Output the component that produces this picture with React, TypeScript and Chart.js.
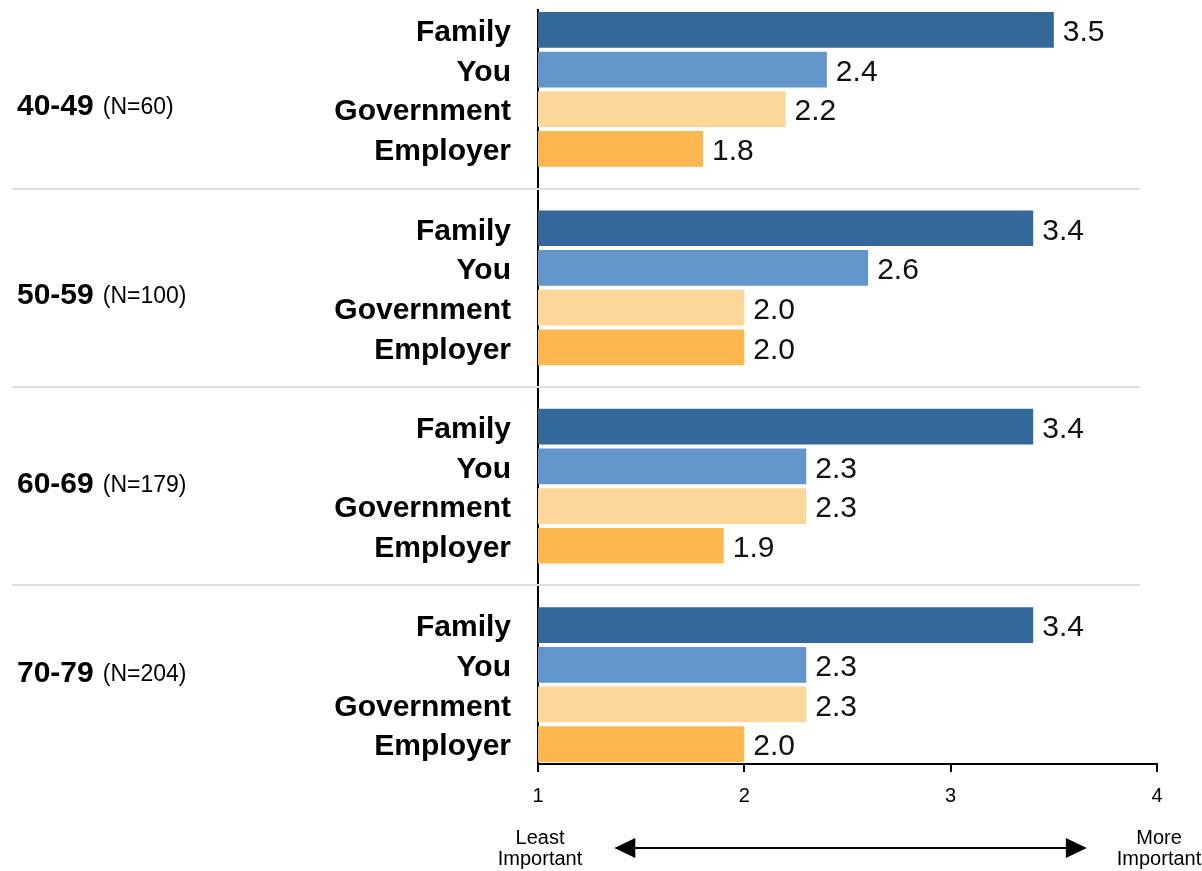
import React, { useEffect, useRef } from "react";
import { Chart, registerables } from "chart.js";

Chart.register(...registerables);

// ---- data ----
const GROUPS = ["40-49", "50-59", "60-69", "70-79"];
const GROUP_N = ["(N=60)", "(N=100)", "(N=179)", "(N=204)"];
const SOURCES = ["Family", "You", "Government", "Employer"];
const SOURCE_COLORS = ["#34679A", "#6296CA", "#FDD69A", "#FDB750"];
const FAMILY = [3.5, 3.4, 3.4, 3.4];
const YOU = [2.4, 2.6, 2.3, 2.3];
const GOVERNMENT = [2.2, 2.0, 2.3, 2.3];
const EMPLOYER = [1.8, 2.0, 1.9, 2.0];
const X_TICKS = [1, 2, 3, 4];
const LEFT_END_LABEL = ["Least", "Important"];
const RIGHT_END_LABEL = ["More", "Important"];

const SERIES = [FAMILY, YOU, GOVERNMENT, EMPLOYER];
const FONT = '"Liberation Sans", Arial, Helvetica, sans-serif';

// Build slot table: 4 bars per group, an empty slot between groups
const slotLabels: string[] = [];
const slotValues: (number | null)[] = [];
const slotColors: string[] = [];
const gapSlots: number[] = [];
const groupStart: number[] = [];
GROUPS.forEach((_, g) => {
  groupStart.push(slotLabels.length);
  SOURCES.forEach((s, k) => {
    slotLabels.push(s);
    slotValues.push(SERIES[k][g]);
    slotColors.push(SOURCE_COLORS[k]);
  });
  if (g < GROUPS.length - 1) {
    gapSlots.push(slotLabels.length);
    slotLabels.push("");
    slotValues.push(null);
    slotColors.push("rgba(0,0,0,0)");
  }
});

const decorPlugin = {
  id: "decor",
  beforeDatasetsDraw(chart: any) {
    const { ctx } = chart;
    const y = chart.scales.y;
    ctx.save();
    ctx.strokeStyle = "#dddddd";
    ctx.lineWidth = 2;
    gapSlots.forEach((s) => {
      const py = Math.round(y.getPixelForValue(s));
      ctx.beginPath();
      ctx.moveTo(12, py);
      ctx.lineTo(1140, py);
      ctx.stroke();
    });
    ctx.restore();
  },
  afterDatasetsDraw(chart: any) {
    const { ctx, chartArea } = chart;
    const x = chart.scales.x;
    const y = chart.scales.y;
    const meta = chart.getDatasetMeta(0);
    ctx.save();
    // value labels
    ctx.fillStyle = "#111";
    ctx.font = `30px ${FONT}`;
    ctx.textAlign = "left";
    ctx.textBaseline = "middle";
    meta.data.forEach((bar: any, i: number) => {
      const v = slotValues[i];
      if (v == null) return;
      ctx.fillText(v.toFixed(1), bar.x + 9, bar.y + 3);
    });

    // group labels
    GROUPS.forEach((g, i) => {
      const py = y.getPixelForValue(groupStart[i] + 1.89 - 0.24 * i) + 2;
      ctx.font = `bold 30px ${FONT}`;
      ctx.fillStyle = "#000";
      ctx.fillText(g, 17, py);
      const w = ctx.measureText(g).width;
      ctx.font = `23px ${FONT}`;
      ctx.fillText(GROUP_N[i], 17 + w + 9, py + 1);
    });

    // bottom scale annotation
    const xl = x.getPixelForValue(X_TICKS[0]);
    const xr = x.getPixelForValue(X_TICKS[X_TICKS.length - 1]);
    const b = chartArea.bottom;
    ctx.font = `20px ${FONT}`;
    ctx.fillStyle = "#000";
    ctx.textAlign = "center";
    ctx.textBaseline = "middle";
    LEFT_END_LABEL.forEach((t, k) => ctx.fillText(t, xl + 2, b + 74 + k * 21));
    RIGHT_END_LABEL.forEach((t, k) => ctx.fillText(t, xr + 2, b + 74 + k * 21));

    const ay = b + 84;
    const a0 = x.getPixelForValue(1.37);
    const a1 = x.getPixelForValue(3.66);
    ctx.strokeStyle = "#000";
    ctx.lineWidth = 2;
    ctx.beginPath();
    ctx.moveTo(a0 + 10, ay);
    ctx.lineTo(a1 - 10, ay);
    ctx.stroke();
    ctx.fillStyle = "#000";
    ctx.beginPath();
    ctx.moveTo(a0, ay);
    ctx.lineTo(a0 + 21, ay - 10);
    ctx.lineTo(a0 + 21, ay + 10);
    ctx.closePath();
    ctx.fill();
    ctx.beginPath();
    ctx.moveTo(a1, ay);
    ctx.lineTo(a1 - 21, ay - 10);
    ctx.lineTo(a1 - 21, ay + 10);
    ctx.closePath();
    ctx.fill();
    ctx.restore();
  },
};

export default function App() {
  const ref = useRef<HTMLCanvasElement | null>(null);
  useEffect(() => {
    document.body.style.margin = "0";
    const canvas = ref.current;
    if (!canvas) return;
    let chart: any = null;
    let cancelled = false;
    const build = () => {
      if (cancelled) return;
      chart = new Chart(canvas, {
        type: "bar",
        data: {
          labels: slotLabels,
          datasets: [
            {
              label: "Importance",
              data: slotValues as any,
              backgroundColor: slotColors,
              borderWidth: 0,
              barPercentage: 0.9,
              categoryPercentage: 1,
            },
          ],
        },
        options: {
          indexAxis: "y",
          animation: false,
          responsive: false,
          devicePixelRatio: 1,
          layout: { padding: { left: 0, right: 45, top: 10, bottom: 0 } },
          plugins: {
            legend: { display: false },
            tooltip: { enabled: false },
          },
          scales: {
            x: {
              type: "linear",
              min: 1,
              max: 4,
              afterBuildTicks: (scale: any) => {
                scale.ticks = X_TICKS.map((v) => ({ value: v }));
              },
              afterFit: (scale: any) => {
                scale.height = 107;
                scale.paddingLeft = 0;
                scale.paddingRight = 0;
              },
              grid: {
                display: true,
                drawOnChartArea: false,
                drawTicks: true,
                tickLength: 8,
                color: "#000",
                lineWidth: 2,
              },
              border: { display: true, color: "#000", width: 2 },
              ticks: {
                color: "#000",
                font: { family: FONT, size: 20 },
                padding: 12,
                maxRotation: 0,
              },
            },
            y: {
              type: "category",
              afterFit: (scale: any) => {
                scale.width = 538;
                scale.paddingTop = 0;
                scale.paddingBottom = 0;
              },
              grid: { display: false, drawTicks: false },
              border: { display: true, color: "#000", width: 2 },
              ticks: {
                autoSkip: false,
                color: "#000",
                font: { family: FONT, size: 30, weight: "bold" },
                padding: 27,
                labelOffset: 3,
              },
            },
          },
        },
        plugins: [decorPlugin],
      } as any);
    };
    const fonts: any = (document as any).fonts;
    if (fonts && fonts.load) {
      Promise.all([
        fonts.load('30px "Liberation Sans"'),
        fonts.load('bold 30px "Liberation Sans"'),
      ])
        .catch(() => null)
        .then(build);
    } else {
      build();
    }
    return () => {
      cancelled = true;
      if (chart) chart.destroy();
    };
  }, []);
  return (
    <div style={{ width: 1202, height: 871, fontFamily: FONT }}>
      <canvas ref={ref} width={1202} height={871} />
    </div>
  );
}
